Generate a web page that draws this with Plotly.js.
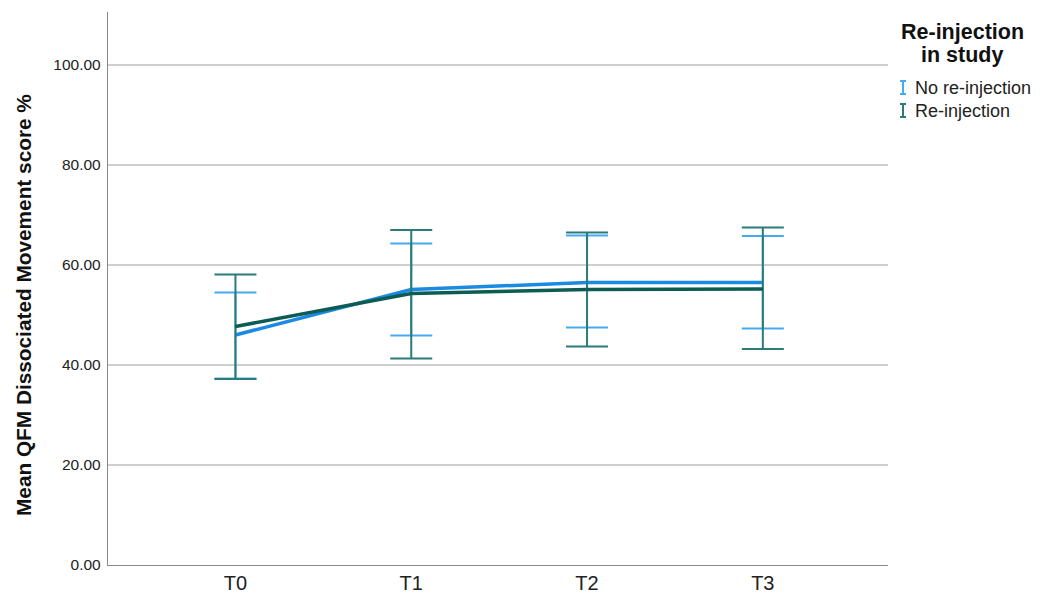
<!DOCTYPE html>
<html>
<head>
<meta charset="utf-8">
<script src="https://cdn.plot.ly/plotly-3.0.1.min.js"></script>
<style>html,body{margin:0;padding:0;background:#fff}#chart{width:1040px;height:598px}</style>
</head>
<body>
<div id="chart"></div>
<script>
const categories = ["T0", "T1", "T2", "T3"];
const seriesNames = ["No re-injection", "Re-injection"];
const noReinjMean = [46.0, 55.1, 56.5, 56.5];
const noReinjUpper = [54.5, 64.3, 65.9, 65.8];
const noReinjLower = [37.3, 45.9, 47.5, 47.3];
const reinjMean = [47.7, 54.3, 55.1, 55.2];
const reinjUpper = [58.1, 67.0, 66.5, 67.5];
const reinjLower = [37.2, 41.3, 43.7, 43.2];
const yTicks = [0, 20, 40, 60, 80, 100];
const yTitle = "Mean QFM Dissociated Movement score %";

const blueLine = "#1a8ae2", blueErr = "#45aaf0";
const tealLine = "#0c5c54", tealErr = "#2a7b7a";

function diff(a, b) { return a.map((v, i) => v - b[i]); }

const traces = [
  {
    x: categories, y: noReinjMean, type: "scatter", mode: "lines", name: seriesNames[0],
    line: {color: blueLine, width: 3.5}, showlegend: false,
    error_y: {type: "data", symmetric: false, array: diff(noReinjUpper, noReinjMean),
      arrayminus: diff(noReinjMean, noReinjLower), color: blueErr, thickness: 2, width: 21}
  },
  {
    x: categories, y: reinjMean, type: "scatter", mode: "lines", name: seriesNames[1],
    line: {color: tealLine, width: 3.5}, showlegend: false,
    error_y: {type: "data", symmetric: false, array: diff(reinjUpper, reinjMean),
      arrayminus: diff(reinjMean, reinjLower), color: tealErr, thickness: 2, width: 21}
  }
];

const font = "Liberation Sans, Arial, sans-serif";

// paper coords: plot x from 108 to 888 px (780 wide), y from 12 to 565 px (553 tall)
function px2x(p) { return (p - 108) / 780; }
function py2y(p) { return (565 - p) / 553; }

// manual legend (I-shaped error-bar symbols)
function iSymbol(xpx, yTop, yBot, color) {
  const ln = {color: color, width: 2};
  const xc = px2x(xpx);
  return [
    {type: "line", xref: "paper", yref: "paper", x0: xc, x1: xc, y0: py2y(yTop), y1: py2y(yBot), line: ln},
    {type: "line", xref: "paper", yref: "paper", x0: px2x(xpx - 3), x1: px2x(xpx + 3), y0: py2y(yTop), y1: py2y(yTop), line: ln},
    {type: "line", xref: "paper", yref: "paper", x0: px2x(xpx - 3), x1: px2x(xpx + 3), y0: py2y(yBot), y1: py2y(yBot), line: ln}
  ];
}

const shapes = [].concat(
  iSymbol(903, 81, 94, blueErr),
  iSymbol(903, 104, 117, tealErr)
);

const layout = {
  width: 1040, height: 598,
  margin: {l: 108, r: 152, t: 12, b: 33},
  paper_bgcolor: "#ffffff", plot_bgcolor: "#ffffff",
  font: {family: font, color: "#222"},
  xaxis: {
    type: "category", range: [-0.725, 3.712], showgrid: false, zeroline: false,
    showline: true, linecolor: "#8a8a8a", linewidth: 1.2, ticks: "", ticklabelstandoff: 0,
    tickfont: {size: 20, color: "#222", family: font}
  },
  yaxis: {
    range: [0, 110.6], tickvals: yTicks, tickformat: ".2f", showgrid: true,
    gridcolor: "#cfcfcf", gridwidth: 1.5, zeroline: false, showline: true,
    linecolor: "#8a8a8a", linewidth: 1.2, ticks: "", ticklabelstandoff: 3,
    tickfont: {size: 15.5, color: "#222", family: font}
  },
  shapes: shapes,
  annotations: [
    {xref: "paper", yref: "paper", x: px2x(23), y: py2y(305), text: "<b>" + yTitle + "</b>", showarrow: false,
      textangle: -90, xanchor: "center", yanchor: "middle", font: {size: 20.8, color: "#111", family: font}},
    {xref: "paper", yref: "paper", x: px2x(962), y: py2y(32), text: "<b>Re-injection</b>", showarrow: false,
      xanchor: "center", yanchor: "middle", font: {size: 21.5, color: "#111", family: font}},
    {xref: "paper", yref: "paper", x: px2x(962), y: py2y(55), text: "<b>in study</b>", showarrow: false,
      xanchor: "center", yanchor: "middle", font: {size: 21.5, color: "#111", family: font}},
    {xref: "paper", yref: "paper", x: px2x(913), y: py2y(88), text: seriesNames[0], showarrow: false,
      xanchor: "left", yanchor: "middle", font: {size: 18, color: "#222", family: font}},
    {xref: "paper", yref: "paper", x: px2x(913), y: py2y(111), text: seriesNames[1], showarrow: false,
      xanchor: "left", yanchor: "middle", font: {size: 18, color: "#222", family: font}}
  ]
};

Plotly.newPlot("chart", traces, layout, {displayModeBar: false, staticPlot: true});
</script>
</body>
</html>
